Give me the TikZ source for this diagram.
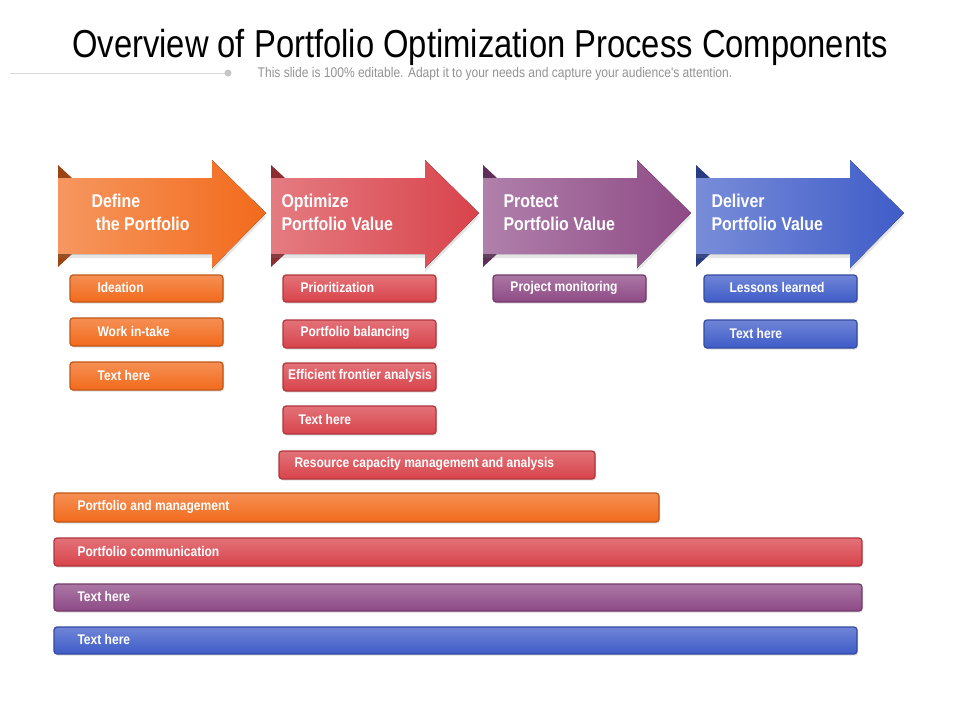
\documentclass[tikz,border=0pt]{standalone}
\usepackage{fontspec}
\setmainfont{Liberation Sans}
\newfontfamily\narrowf[FakeStretch=0.86]{Liberation Sans}
\newfontfamily\titlef[FakeStretch=0.84]{Liberation Sans}
\usetikzlibrary{shadows}
\definecolor{cO}{HTML}{F26A1B}
\definecolor{cR}{HTML}{D9434B}
\definecolor{cP}{HTML}{8E4A86}
\definecolor{cB}{HTML}{3F5CC8}
\tikzset{
  bar/.style={draw=#1!80!black,line width=1.2pt,rounded corners=3pt,top color=#1!75!white,bottom color=#1,
    drop shadow={shadow xshift=1pt,shadow yshift=-1.5pt,opacity=.25}},
  btxt/.style={text=white,font=\narrowf\bfseries\fontsize{14}{16}\selectfont,anchor=west},
  atxt/.style={text=white,font=\narrowf\bfseries\fontsize{18.5}{23}\selectfont,anchor=north west,align=left},
}
\newcommand\arrowshape[3]{% x0, color, name
  \fill[#2!65!black] (#1,165) -- (#1+14,178) -- (#1,178) -- cycle;
  \fill[#2!65!black] (#1,254) -- (#1+14,254) -- (#1,267) -- cycle;
  \fill[left color=#2!70!white,right color=#2,drop shadow={shadow xshift=0pt,shadow yshift=-4pt,opacity=.2}]
    (#1,178) -- (#1+154,178) -- (#1+154,160) -- (#1+208,213) -- (#1+154,268) -- (#1+154,254) -- (#1,254) -- cycle;
}
\newcommand\boxat[6]{% x1,y1,x2,y2,color,text
  \path[bar=#5] (#1,#2) rectangle (#3,#4);
  \node[btxt] at (#1+12,#2/2+#4/2-1) {#6};
}
\begin{document}
\begin{tikzpicture}[x=1pt,y=-1pt]
\useasboundingbox[fill=white] (0,0) rectangle (960,720);
\node[font=\titlef\fontsize{39}{44}\selectfont] (title) at (480,47) {Overview of Portfolio Optimization Process Components};
\node[font=\narrowf\fontsize{14}{16}\selectfont,text=gray!85] (sub) at (495,74) {This slide is 100\% editable. Adapt it to your needs and capture your audience's attention.};
\draw[gray!30,line width=1pt] (10,73) -- (228,73);
\fill[gray!45] (228,73) circle (3.5);
\arrowshape{58}{cO}{a1}
\arrowshape{271}{cR}{a2}
\arrowshape{483}{cP}{a3}
\arrowshape{696}{cB}{a4}
\node[atxt] (t1) at (88,191) {Define\\ \ the Portfolio};
\node[atxt] (t2) at (278,191) {Optimize\\Portfolio Value};
\node[atxt] (t3) at (500,191) {Protect\\Portfolio Value};
\node[atxt] (t4) at (708,191) {Deliver\\Portfolio Value};
\boxat{70}{275}{223}{302}{cO}{\hspace{12pt}Ideation}
\boxat{70}{318}{223}{346}{cO}{\hspace{12pt}Work in-take}
\boxat{70}{362}{223}{390}{cO}{\hspace{12pt}Text here}
\boxat{283}{275}{436}{302}{cR}{\hspace{2pt}Prioritization}
\boxat{283}{320}{436}{348}{cR}{\hspace{2pt}Portfolio balancing}
\path[bar=cR] (283,363) rectangle (436,391);
\node[btxt,anchor=center] (eff) at (360,376) {Efficient frontier analysis};
\boxat{283}{406}{436}{434}{cR}{Text here}
\boxat{279}{451}{595}{479}{cR}{Resource capacity management and analysis}
\path[bar=cP] (493,275) rectangle (646,302);
\node[btxt,anchor=center] (pm) at (564,288) {Project monitoring};
\boxat{704}{275}{857}{302}{cB}{\hspace{10pt}Lessons learned}
\boxat{704}{320}{857}{348}{cB}{\hspace{10pt}Text here}
\boxat{54}{493}{659}{522}{cO}{\hspace{8pt}Portfolio and management}
\boxat{54}{538}{862}{566}{cR}{\hspace{8pt}Portfolio communication}
\boxat{54}{584}{862}{611}{cP}{\hspace{8pt}Text here}
\boxat{54}{627}{857}{654}{cB}{\hspace{8pt}Text here}
\end{tikzpicture}
\end{document}
